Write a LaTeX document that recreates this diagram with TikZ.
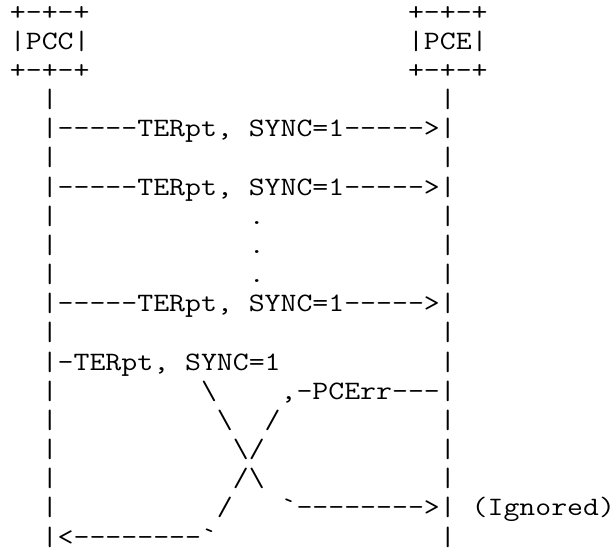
\documentclass[tikz,border=0pt]{standalone}
\usepackage{fontspec}
\usepackage{graphicx}
\usepackage{tikz}

\newlength\chw
\tikzset{
    txt/.style={anchor=base west, inner sep=0pt, outer sep=0pt,
        font=\ttfamily\fontsize{20pt}{22pt}\selectfont\frenchspacing,
        execute at begin node={\setbox0=\hbox\bgroup},
        execute at end node={\egroup\scalebox{\asciistretch}[1]{\box0}}},
}

\begin{document}
% 每个字符 12pt 宽
\settowidth\chw{\ttfamily\fontsize{20pt}{22pt}\selectfont M}
\pgfmathsetmacro\asciistretch{12/\chw}
\begin{tikzpicture}[x=12pt,y=-21.975pt]
    \useasboundingbox (-0.625,-0.692) rectangle (38,18.216);
    %% PCC 与 PCE
    \node[txt] (pcc top) at (0,0) {+-+-+};
    \node[txt] (pcc) at (0,1) {|PCC|};
    \node[txt] (pcc bot) at (0,2) {+-+-+};
    \node[txt] (pce top) at (25,0) {+-+-+};
    \node[txt] (pce) at (25,1) {|PCE|};
    \node[txt] (pce bot) at (25,2) {+-+-+};
    % 竖线
    \foreach \r in {3,...,18} {
        \node[txt] (l\r) at (2,\r) {|};
        \node[txt] (r\r) at (27,\r) {|};
    }
    %% messages
    \node[txt] (m1) at (3,4) {-----TERpt, SYNC=1----->};
    \node[txt] (m2) at (3,6) {-----TERpt, SYNC=1----->};
    \node[txt] (d1) at (15,7) {.};
    \node[txt] (d2) at (15,8) {.};
    \node[txt] (d3) at (15,9) {.};
    \node[txt] (m3) at (3,10) {-----TERpt, SYNC=1----->};
    \node[txt] (m4) at (3,12) {-TERpt, SYNC=1};
    % 交叉
    \node[txt] (x1) at (12,13) {\textbackslash};
    \node[txt] (err) at (17,13) {,-PCErr---};
    \node[txt] (x2) at (13,14) {\textbackslash};
    \node[txt] (x3) at (16,14) {/};
    \node[txt] (x4) at (14,15) {\textbackslash/};
    \node[txt] (x5) at (14,16) {/\textbackslash};
    \node[txt] (x6) at (13,17) {/};
    \node[txt] (err end) at (17,17) {\textasciigrave-------->};
    \node[txt] (ign) at (29,17) {(Ignored)};
    \node[txt] (m4 end) at (3,18) {<--------\textasciigrave};
\end{tikzpicture}
\end{document}
